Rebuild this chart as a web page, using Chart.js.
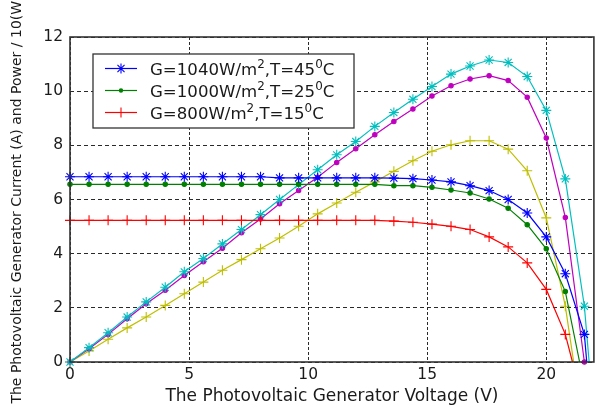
<!DOCTYPE html>
<html><head><meta charset="utf-8">
<script src="https://cdn.jsdelivr.net/npm/chart.js@4.4.0/dist/chart.umd.min.js"></script>
<style>html,body{margin:0;padding:0;background:#fff;}canvas{display:block;}</style>
</head><body>
<canvas id="c" width="600" height="408"></canvas>
<script>
// ---- data ----
const voltage = [0, 0.8, 1.6, 2.4, 3.2, 4, 4.8, 5.6, 6.4, 7.2, 8, 8.8, 9.6, 10.4, 11.2, 12, 12.8, 13.6, 14.4, 15.2, 16, 16.8, 17.6, 18.4, 19.2, 20, 20.8, 21.6];

const current1040 = [6.84, 6.84, 6.84, 6.84, 6.84, 6.84, 6.84, 6.84, 6.84, 6.84, 6.84, 6.80, 6.80, 6.80, 6.80, 6.80, 6.80, 6.79, 6.77, 6.72, 6.65, 6.51, 6.33, 6.00, 5.50, 4.62, 3.26, 1.02];
const current1000 = [6.56, 6.56, 6.56, 6.56, 6.56, 6.56, 6.56, 6.56, 6.56, 6.56, 6.56, 6.56, 6.56, 6.56, 6.56, 6.56, 6.56, 6.51, 6.51, 6.45, 6.35, 6.24, 6.02, 5.68, 5.07, 4.18, 2.60];
const current800  = [5.23, 5.23, 5.23, 5.23, 5.23, 5.23, 5.23, 5.23, 5.23, 5.23, 5.23, 5.23, 5.23, 5.23, 5.23, 5.23, 5.23, 5.20, 5.16, 5.09, 5.01, 4.89, 4.62, 4.25, 3.66, 2.68, 1.02];

const power1040 = [0, 0.53, 1.08, 1.66, 2.22, 2.76, 3.33, 3.82, 4.36, 4.89, 5.44, 6.00, 6.55, 7.10, 7.65, 8.14, 8.70, 9.21, 9.70, 10.17, 10.63, 10.93, 11.15, 11.06, 10.54, 9.29, 6.76, 2.06];
const power1000 = [0, 0.49, 1.02, 1.60, 2.15, 2.65, 3.19, 3.70, 4.20, 4.77, 5.28, 5.84, 6.33, 6.82, 7.37, 7.87, 8.39, 8.88, 9.34, 9.82, 10.20, 10.45, 10.57, 10.39, 9.78, 8.27, 5.34, 0];
const power800  = [0, 0.41, 0.84, 1.26, 1.66, 2.09, 2.52, 2.95, 3.39, 3.78, 4.18, 4.58, 5.01, 5.47, 5.87, 6.27, 6.65, 7.04, 7.43, 7.78, 8.02, 8.17, 8.17, 7.86, 7.06, 5.32, 2.06];

// voltage where each curve reaches zero after its last marker (null = ends on a marker)
const zeroVoltage1040 = 21.7, zeroVoltage1000 = 21.4, zeroVoltage800 = 21.1;
const zeroPower1040 = 21.8, zeroPower1000 = null, zeroPower800 = 21.15;

const legendLabels = ['G=1040W/m²,T=45⁰C', 'G=1000W/m²,T=25⁰C', 'G=800W/m²,T=15⁰C'];
const xTitle = 'The Photovoltaic Generator Voltage (V)';
const yTitle = 'The Photovoltaic Generator Current (A) and Power / 10(W)';
const xTicks = [0, 5, 10, 15, 20];
const yTicks = [0, 2, 4, 6, 8, 10, 12];

// ---- styling ----
const FONT = 'DejaVu Sans';
const TEXT = '#1a1a1a';
const C = { blue:'#0000FF', green:'#008000', red:'#FF0000', cyan:'#00BFBF', magenta:'#BF00BF', yellow:'#BFBF00' };

function points(values, zeroAt) {
  const pts = values.map((y, i) => ({ x: voltage[i], y }));
  if (zeroAt !== null) pts.push({ x: zeroAt, y: 0 });
  return pts;
}
function dataset(label, values, zeroAt, color, style, radius) {
  const n = values.length;
  return {
    label, data: points(values, zeroAt),
    borderColor: color, backgroundColor: color, borderWidth: 1.2,
    pointStyle: style, pointRadius: ctx => ctx.dataIndex < n ? radius : 0,
    pointHoverRadius: 0, pointBorderColor: color, pointBackgroundColor: color,
    pointBorderWidth: 1.1, tension: 0, fill: false, clip: false
  };
}

const datasets = [
  dataset('I 1040', current1040, zeroVoltage1040, C.blue, 'star', 5),
  dataset('I 1000', current1000, zeroVoltage1000, C.green, 'circle', 2.2),
  dataset('I 800', current800, zeroVoltage800, C.red, 'cross', 5),
  dataset('P 1040', power1040, zeroPower1040, C.cyan, 'star', 5),
  dataset('P 1000', power1000, zeroPower1000, C.magenta, 'circle', 2.2),
  dataset('P 800', power800, zeroPower800, C.yellow, 'cross', 5)
];
const legendStyles = [
  { color: C.blue, style: 'star' },
  { color: C.green, style: 'dot' },
  { color: C.red, style: 'cross' }
];

function drawMarker(ctx, style, x, y, color) {
  ctx.strokeStyle = color; ctx.fillStyle = color; ctx.lineWidth = 1.1;
  ctx.beginPath();
  if (style === 'dot') { ctx.arc(x, y, 2.2, 0, Math.PI * 2); ctx.fill(); return; }
  const r = 5;
  ctx.moveTo(x - r, y); ctx.lineTo(x + r, y);
  ctx.moveTo(x, y - r); ctx.lineTo(x, y + r);
  if (style === 'star') {
    const d = r * Math.SQRT1_2;
    ctx.moveTo(x - d, y - d); ctx.lineTo(x + d, y + d);
    ctx.moveTo(x - d, y + d); ctx.lineTo(x + d, y - d);
  }
  ctx.stroke();
}
function drawRich(ctx, text, x, y, size) {
  const sup = { '²': '2', '⁰': '0' };
  let run = '';
  const flush = () => {
    if (!run) return;
    ctx.font = size + 'px "' + FONT + '"';
    ctx.fillText(run, x, y); x += ctx.measureText(run).width; run = '';
  };
  for (const ch of text) {
    if (sup[ch]) {
      flush();
      const s = size * 0.72;
      ctx.font = s + 'px "' + FONT + '"';
      ctx.fillText(sup[ch], x, y - size * 0.42);
      x += ctx.measureText(sup[ch]).width;
    } else run += ch;
  }
  flush();
}

const framePlugin = {
  id: 'frame',
  afterDatasetsDraw(chart) {
    const { ctx, chartArea: a } = chart;
    ctx.save();
    ctx.strokeStyle = '#333'; ctx.lineWidth = 1.6;
    ctx.strokeRect(a.left, a.top, a.right - a.left, a.bottom - a.top);
    ctx.restore();
  }
};
const legendPlugin = {
  id: 'boxLegend',
  afterDraw(chart) {
    const { ctx, chartArea: a } = chart;
    const L = a.left + 23, T = a.top + 17, W = 261, H = 74;
    ctx.save();
    ctx.fillStyle = '#fff'; ctx.fillRect(L, T, W, H);
    ctx.strokeStyle = '#333'; ctx.lineWidth = 1.3; ctx.strokeRect(L, T, W, H);
    legendLabels.forEach((txt, i) => {
      const y = T + 14.5 + 22 * i;
      const st = legendStyles[i];
      ctx.strokeStyle = st.color; ctx.lineWidth = 1.2;
      ctx.beginPath(); ctx.moveTo(L + 12, y); ctx.lineTo(L + 44, y); ctx.stroke();
      drawMarker(ctx, st.style, L + 28, y, st.color);
      ctx.fillStyle = TEXT; ctx.textBaseline = 'alphabetic'; ctx.textAlign = 'left';
      drawRich(ctx, txt, L + 57, y + 6, 16.6);
    });
    ctx.restore();
  }
};

new Chart(document.getElementById('c'), {
  type: 'line',
  data: { datasets },
  options: {
    responsive: false, animation: false, devicePixelRatio: 1,
    layout: { padding: { top: 37, right: 3, left: 0, bottom: 0 } },
    plugins: { legend: { display: false }, tooltip: { enabled: false } },
    events: [],
    scales: {
      x: {
        type: 'linear', min: 0, max: 22,
        afterFit: s => { s.height = 46; },
        afterBuildTicks: s => { s.ticks = xTicks.map(v => ({ value: v })); },
        ticks: { font: { family: FONT, size: 15.5 }, color: TEXT, padding: 4, maxRotation: 0 },
        grid: { color: '#2a2a2a', lineWidth: 1, drawTicks: false },
        border: { display: false, dash: [3, 2] },
        title: { display: true, text: xTitle, font: { family: FONT, size: 17 }, color: TEXT, padding: { top: 0, bottom: 1 } }
      },
      y: {
        type: 'linear', min: 0, max: 12,
        afterFit: s => { s.width = 70; },
        afterBuildTicks: s => { s.ticks = yTicks.map(v => ({ value: v })); },
        ticks: { font: { family: FONT, size: 15.5 }, color: TEXT, padding: 7 },
        grid: { color: '#2a2a2a', lineWidth: 1, drawTicks: false },
        border: { display: false, dash: [4, 3] },
        title: { display: true, text: yTitle, font: { family: FONT, size: 14 }, color: TEXT, padding: { top: 9, bottom: 0 } }
      }
    }
  },
  plugins: [framePlugin, legendPlugin]
});
</script>
</body></html>
